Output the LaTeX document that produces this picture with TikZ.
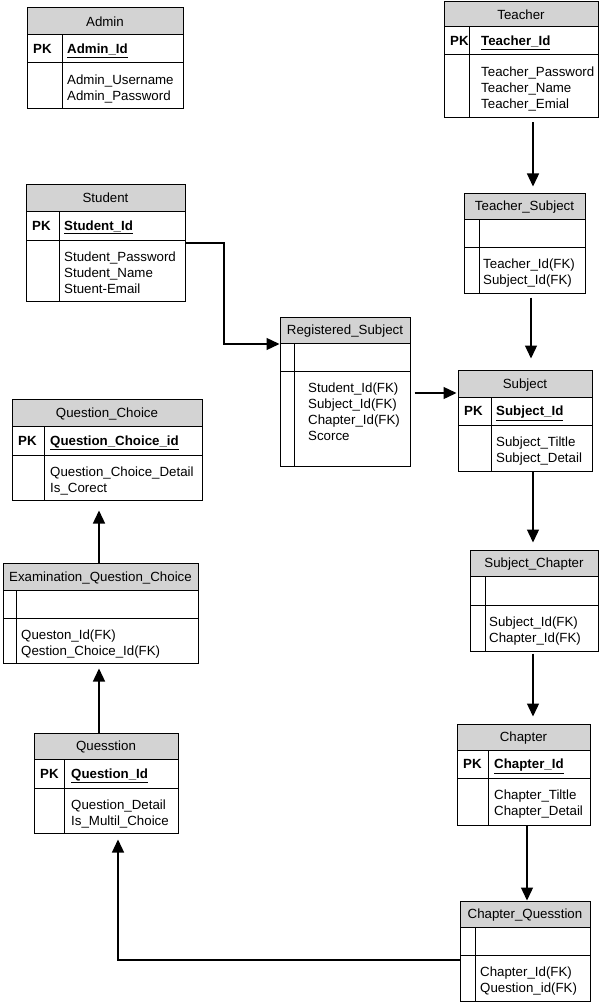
\documentclass[tikz,border=0pt]{standalone}
\usepackage{fontspec}
\setmainfont{Liberation Sans}
\usetikzlibrary{arrows.meta,fit}
\definecolor{hdr}{RGB}{211,211,211}
\tikzset{
  tbl/.style={draw=black, line width=1pt, inner sep=0pt},
  rowrule/.style={draw=black, line width=1pt},
  txt/.style={inner sep=0pt, font=\fontsize{13.3}{16}\selectfont},
  arr/.style={draw=black, line width=1.3pt, -{Triangle[length=13pt,width=12pt]}},
}
% name, x1, y1, x2, y2, yheader, ypk, xdivider, title
\newcommand\ent[9]{%
  \fill[hdr] (#2,#3) rectangle (#4,#6);
  \node[tbl, fit={(#2,#3)(#4,#5)}] (#1) {};
  \draw[rowrule] (#2,#6) -- (#4,#6) (#2,#7) -- (#4,#7) (#8,#6) -- (#8,#5);
  \node[txt, anchor=base] (#1-t) at ({(#2+#4)/2},{(#3+#6)/2+4.7}) {#9};
}
% name, xPK, xkey, yheader, ypk, key
\newcommand\pkrow[6]{%
  \node[txt, anchor=base west] (#1-pk) at (#2,{(#4+#5)/2+4.7}) {\bfseries PK};
  \node[txt, anchor=base west] (#1-k) at (#3,{(#4+#5)/2+4.7}) {\bfseries\underline{#6}};
}
% name, x, ytop, list
\newcommand\attrs[4]{%
  \foreach \aline [count=\i] in {#4}
    \node[txt, anchor=base west] (#1-a\i) at (#2,{#3+21.5+16*(\i-1)}) {\aline};
}
\begin{document}
\begin{tikzpicture}[x=1pt,y=-1pt]
\useasboundingbox (0,0) rectangle (614,1003);
\fill[white] (0,0) rectangle (614,1003);

\ent{admin}{27}{8}{183}{109}{35}{63}{62}{Admin}
\pkrow{admin}{33}{67}{35}{63}{Admin\_Id}
\attrs{admin}{67}{63}{Admin\_Username,Admin\_Password}

\ent{teacher}{444}{2}{598}{118}{27}{55}{469}{Teacher}
\pkrow{teacher}{450}{481}{27}{55}{Teacher\_Id}
\attrs{teacher}{481}{55}{Teacher\_Password,Teacher\_Name,Teacher\_Emial}

\ent{student}{26}{185}{185}{301}{211}{240}{59}{Student}
\pkrow{student}{32}{64}{211}{240}{Student\_Id}
\attrs{student}{64}{240}{Student\_Password,Student\_Name,Stuent-Email}

\ent{tsub}{464}{193}{585}{293}{219}{247}{479}{Teacher\_Subject}
\attrs{tsub}{483}{247}{Teacher\_Id(FK),Subject\_Id(FK)}

\ent{reg}{280}{317}{410}{466}{343}{371}{294}{Registered\_Subject}
\attrs{reg}{308}{371}{Student\_Id(FK),Subject\_Id(FK),Chapter\_Id(FK),Scorce}

\ent{subject}{458}{370}{592}{471}{397}{425}{491}{Subject}
\pkrow{subject}{464}{496}{397}{425}{Subject\_Id}
\attrs{subject}{496}{425}{Subject\_Tiltle,Subject\_Detail}

\ent{qchoice}{12}{399}{202}{500}{426}{455}{44}{Question\_Choice}
\pkrow{qchoice}{18}{50}{426}{455}{Question\_Choice\_id}
\attrs{qchoice}{50}{455}{Question\_Choice\_Detail,Is\_Corect}

\ent{eqc}{3}{563}{198}{663}{590}{618}{16}{Examination\_Question\_Choice}
\attrs{eqc}{21}{618}{Queston\_Id(FK),Qestion\_Choice\_Id(FK)}

\ent{question}{34}{733}{178}{833}{759}{788}{64}{Quesstion}
\pkrow{question}{40}{71}{759}{788}{Question\_Id}
\attrs{question}{71}{788}{Question\_Detail,Is\_Multil\_Choice}

\ent{subchap}{470}{550}{598}{651}{576}{605}{485}{Subject\_Chapter}
\attrs{subchap}{489}{605}{Subject\_Id(FK),Chapter\_Id(FK)}

\ent{chapter}{457}{724}{590}{825}{750}{778}{488}{Chapter}
\pkrow{chapter}{463}{494}{750}{778}{Chapter\_Id}
\attrs{chapter}{494}{778}{Chapter\_Tiltle,Chapter\_Detail}

\ent{chapq}{460}{901}{590}{1001}{927}{955}{475}{Chapter\_Quesstion}
\attrs{chapq}{480}{955}{Chapter\_Id(FK),Question\_id(FK)}

% connector helper coordinates
\coordinate (xa) at (533,0);
\coordinate (xb) at (531,0);
\coordinate (xc) at (527,0);
\coordinate (xq) at (99,0);
\coordinate (b1) at (224,243);
\coordinate (b2) at (224,344);
\coordinate (yr) at (0,393);
\coordinate (c1) at (118,960);

\draw[arr, shorten <=4pt, shorten >=6pt] (teacher.south -| xa) -- (tsub.north -| xa);
\draw[arr, shorten <=4pt, shorten >=11pt] (tsub.south -| xb) -- (subject.north -| xb);
\draw[arr, shorten >=7pt] (subject.south -| xa) -- (subchap.north -| xa);
\draw[arr, shorten <=2pt, shorten >=7pt] (subchap.south -| xa) -- (chapter.north -| xa);
\draw[arr] (chapter.south -| xc) -- (chapq.north -| xc);
\draw[arr] (student.east |- b1) -- (b1) |- (reg.west |- b2);
\draw[arr, shorten <=4pt, shorten >=1pt] (reg.east |- yr) -- (subject.west |- yr);
\draw[arr, shorten >=6pt] (chapq.west |- c1) -- (c1) -- (question.south -| c1);
\draw[arr, shorten >=5pt] (question.north -| xq) -- (eqc.south -| xq);
\draw[arr, shorten >=10pt] (eqc.north -| xq) -- (qchoice.south -| xq);
\end{tikzpicture}
\end{document}
